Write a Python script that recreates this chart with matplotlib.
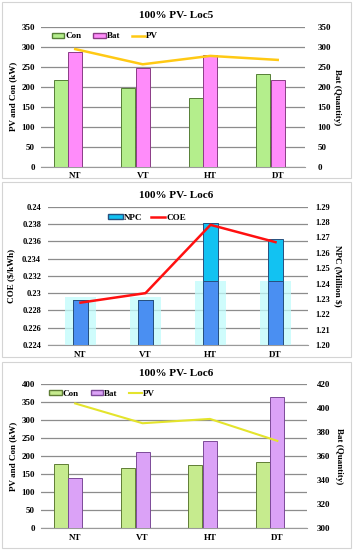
import numpy as np
import matplotlib
matplotlib.use("Agg")
import matplotlib.pyplot as plt
from matplotlib.patches import Rectangle, Patch
from matplotlib.lines import Line2D

plt.rcParams['font.family'] = ['Liberation Serif', 'DejaVu Serif']
plt.rcParams['font.weight'] = 'bold'

cats = ['NT', 'VT', 'HT', 'DT']

# panel 1 - Loc5
con5 = [217, 196, 173, 233]
bat5 = [288, 248, 279, 217]
pv5 = [294, 256, 277, 267]

# panel 2 - Loc6 costs
npc6 = [1.2293, 1.2293, 1.2792, 1.2692]
coe6 = [0.2289, 0.2300, 0.2379, 0.2359]

# panel 3 - Loc6 sizes
con6 = [178, 166, 174, 183]
bat6 = [342, 363, 372.5, 409.5]
pv6 = [346, 291, 303, 242]

W, H = 353, 550
fig = plt.figure(figsize=(W / 100, H / 100), dpi=100)
x = np.arange(4)


def box(y0, y1):
    fig.patches.append(Rectangle((2 / W, 1 - y1 / H), (W - 4) / W, (y1 - y0) / H,
                                 transform=fig.transFigure, fill=False,
                                 edgecolor='#D4D4D4', linewidth=0.8))


def make_axes(left, right, top, bottom, lpad, rpad, fs):
    ax = fig.add_axes([left / W, 1 - bottom / H, (right - left) / W, (bottom - top) / H])
    ax2 = ax.twinx()
    for a in (ax, ax2):
        for s in ['left', 'right', 'top']:
            a.spines[s].set_visible(False)
        a.tick_params(length=0, labelsize=fs)
    ax.spines['bottom'].set_color('#9A9A9A')
    ax2.spines['bottom'].set_visible(False)
    ax.tick_params(axis='y', pad=lpad)
    ax2.tick_params(axis='y', pad=rpad)
    ax.tick_params(axis='x', pad=4, labelsize=6.5)
    ax.yaxis.grid(True, color='#8C8C8C', linewidth=0.9)
    ax.set_axisbelow(True)
    ax.set_xticks(x)
    ax.set_xticklabels(cats)
    return ax, ax2


def labels(ax, ax2, left_text, right_text, lx, rx):
    ax.set_ylabel(left_text, fontsize=6.5, fontweight='bold')
    ax.yaxis.set_label_coords(lx, 0.5)
    ax2.set_ylabel(right_text, fontsize=6.5, fontweight='bold', rotation=270, va='center')
    ax2.yaxis.set_label_coords(rx, 0.5)


# ---------------- panel 1 ----------------
box(2, 178)
fig.text(0.5, 1 - 15 / H, '100% PV- Loc5', ha='center', va='center', fontsize=8, fontweight='bold')
ax, ax2 = make_axes(41, 305, 26.7, 166.7, 4.3, 9, 6.5)
ax.set_xlim(-0.507, 3.404)
ax2.set_xlim(-0.507, 3.404)
ax.set_ylim(0, 350)
ax.set_yticks(range(0, 351, 50))
ax2.set_ylim(0, 350)
ax2.set_yticks(range(0, 351, 50))
ax.bar(x - 0.215, con5, 0.207, color='#B4EE8C', edgecolor='#557F36', linewidth=0.7)
ax2.bar(x, bat5, 0.207, color='#FF8CFA', edgecolor='#8A3C86', linewidth=0.7)
ax2.plot(x, pv5, color='#FFC914', linewidth=1.8, transform=ax.transData)
labels(ax, ax2, 'PV and Con (kW)', 'Bat (Quantity)', -0.091, 1.121)
h = [Patch(facecolor='#B4EE8C', edgecolor='#557F36'), Patch(facecolor='#FF8CFA', edgecolor='#8A3C86'),
     Line2D([], [], color='#FFC914', linewidth=1.8)]
ax2.legend(h, ['Con', 'Bat', 'PV'], loc='center left', bbox_to_anchor=(0.01, 0.93), ncol=3,
           frameon=False, fontsize=6.5, handlelength=1.4, handleheight=0.5, columnspacing=1.3,
           handletextpad=0.1)

# ---------------- panel 2 ----------------
box(182, 357)
fig.text(0.5, 1 - 195 / H, '100% PV- Loc6', ha='center', va='center', fontsize=8, fontweight='bold')
ax, ax2 = make_axes(48, 308, 206.7, 345, 5, 5, 6)
ax.set_xlim(-0.5, 3.5)
ax2.set_xlim(-0.5, 3.5)
ax.set_ylim(0.224, 0.24)
coe_ticks = np.round(np.arange(0.224, 0.2401, 0.002), 3)
ax.set_yticks(coe_ticks)
ax.set_yticklabels([('%.3f' % t).rstrip('0') for t in coe_ticks])
npc_ticks = np.round(np.arange(1.20, 1.2901, 0.01), 2)
ax2.set_ylim(1.20, 1.29)
ax2.set_yticks(npc_ticks)
ax2.set_yticklabels(['%.2f' % t for t in npc_ticks])
split = 1.2418
glow = [min(v + 0.002, split) for v in npc6]
ax2.bar(x, glow, 0.49, color='#BFFCFC', alpha=0.75, linewidth=0)
ax2.bar(x, npc6, 0.246, color='#12C2F2', edgecolor='#27507F', linewidth=0.7)
ax2.bar(x, [min(v, split) for v in npc6], 0.246, color='#4A8FF2', edgecolor='#27507F', linewidth=0.7)
ax2.plot(x, coe6, color='#FF1010', linewidth=1.8, transform=ax.transData)
labels(ax, ax2, 'COE ($/kWh)', r'NPC (Million \$)', -0.127, 1.115)
h = [Patch(facecolor='#12C2F2', edgecolor='#27507F'), Line2D([], [], color='#FF1010', linewidth=1.8)]
ax2.legend(h, ['NPC', 'COE'], loc='center left', bbox_to_anchor=(0.2, 0.92), ncol=2,
           frameon=False, fontsize=6.5, handlelength=1.6, handleheight=0.5, columnspacing=1.0,
           handletextpad=0.1)

# ---------------- panel 3 ----------------
box(362, 548)
fig.text(0.5, 1 - 373 / H, '100% PV- Loc6', ha='center', va='center', fontsize=8, fontweight='bold')
ax, ax2 = make_axes(41, 307, 384, 528, 4.3, 7, 6.5)
ax.set_xlim(-0.507, 3.44)
ax2.set_xlim(-0.507, 3.44)
ax.set_ylim(0, 400)
ax.set_yticks(range(0, 401, 50))
ax2.set_ylim(300, 420)
ax2.set_yticks(range(300, 421, 20))
ax.bar(x - 0.215, con6, 0.207, color='#C6EB8E', edgecolor='#5F7D35', linewidth=0.7)
ax2.bar(x, bat6, 0.207, color='#DBA2F7', edgecolor='#7C4A98', linewidth=0.7)
ax2.plot(x, pv6, color='#E4E42C', linewidth=1.5, transform=ax.transData)
labels(ax, ax2, 'PV and Con (kW)', 'Bat (Quantity)', -0.091, 1.12)
h = [Patch(facecolor='#C6EB8E', edgecolor='#5F7D35'), Patch(facecolor='#DBA2F7', edgecolor='#7C4A98'),
     Line2D([], [], color='#E4E42C', linewidth=1.5)]
ax2.legend(h, ['Con', 'Bat', 'PV'], loc='center left', bbox_to_anchor=(0.0, 0.93), ncol=3,
           frameon=False, fontsize=6.5, handlelength=1.4, handleheight=0.5, columnspacing=1.3,
           handletextpad=0.1)

fig.savefig('out.png', dpi=100)
